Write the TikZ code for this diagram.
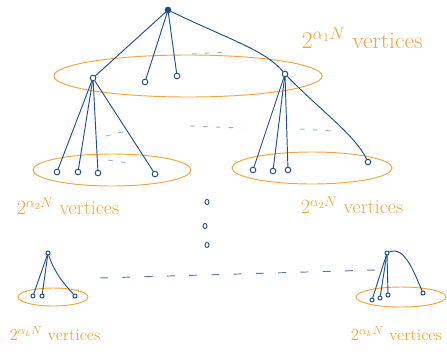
\documentclass[tikz,border=0pt]{standalone}
\usetikzlibrary{calc}
\definecolor{inkblue}{HTML}{1F4E8C}
\definecolor{inkorange}{HTML}{F0A53C}

\begin{document}
\begin{tikzpicture}[
    x=0.03cm, y=-0.03cm,
    vtx/.style={circle, draw=inkblue, thick, fill=white,
                inner sep=0pt, minimum size=0.17cm},
    smallvtx/.style={vtx, minimum size=0.12cm},
    edge/.style={draw=inkblue, thick, line cap=round},
    ring/.style={draw=inkorange, thick},
    faint/.style={draw=inkblue!45, thick, dash pattern=on 4pt off 7pt},
    gap/.style={draw=inkblue!75, thick, dash pattern=on 7pt off 12pt},
    lbl/.style={font=\fontsize{17}{20}\selectfont, text=inkorange},
    biglbl/.style={lbl, font=\fontsize{20}{24}\selectfont},
    smalllbl/.style={lbl, font=\fontsize{14}{17}\selectfont},
]
\useasboundingbox (0,0) rectangle (447,355);

% --- Level 1 ---
\node[vtx, fill=inkblue] (root) at (168, 10) {};
\node[vtx] (a) at (93, 78) {};
\node[vtx] (b) at (145, 82) {};
\node[vtx] (c) at (177, 76) {};
\node[vtx] (d) at (285, 74) {};
\draw[ring] (188, 76) ellipse (134 and 21);

\draw[edge] (root) -- (a);
\draw[edge] (root) -- (b);
\draw[edge] (root) -- (c);
\draw[edge] (root) .. controls (230, 40) and (265, 50) .. (d);
\draw[faint] (192, 54) -- (226, 52);

\node[biglbl] (lab1) at (362, 38) {$2^{\alpha_1 N}$ vertices};

% --- Level 2, left ---
\node[vtx] (a1) at (57, 172) {};
\node[vtx] (a2) at (78, 172) {};
\node[vtx] (a3) at (98, 173) {};
\node[vtx] (a4) at (155, 174) {};
\draw[ring] (112, 170) ellipse (79 and 16);
\foreach \k in {a1, a2, a3, a4}
    \draw[edge] (a) -- (\k);
\draw[faint] (106, 136) -- (126, 131);
\draw[faint] (108, 160) -- (128, 163);

\node[lbl] (lab2) at (68, 206) {$2^{\alpha_2 N}$ vertices};

% --- Level 2, right ---
\node[vtx] (d1) at (253, 170) {};
\node[vtx] (d2) at (273, 171) {};
\node[vtx] (d3) at (288, 170) {};
\node[vtx] (d4) at (368, 162) {};
\draw[ring] (312, 168) ellipse (80 and 16);
\foreach \k in {d1, d2, d3}
    \draw[edge] (d) -- (\k);
\draw[edge] (d) .. controls (320, 110) and (355, 135) .. (d4);
\draw[faint] (190, 126) -- (242, 128);
\draw[faint] (300, 129) -- (332, 131);

\node[lbl] (lab3) at (352, 205) {$2^{\alpha_2 N}$ vertices};

% --- Vertical dots ---
\foreach \y/\x in {202/207, 226/205, 245/207}
    \draw[inkblue, thick] (\x, \y) ellipse (2 and 2.6);

% --- Level k, left ---
\node[smallvtx] (e) at (48, 253) {};
\node[smallvtx] (e1) at (33, 296) {};
\node[smallvtx] (e2) at (42, 296) {};
\node[smallvtx] (e3) at (75, 296) {};
\draw[ring] (53, 297) ellipse (35 and 9);
\draw[edge] (e) -- (e1);
\draw[edge] (e) -- (e2);
\draw[edge] (e) .. controls (55, 275) and (68, 288) .. (e3);

\node[smalllbl] (lab4) at (55, 334) {$2^{\alpha_k N}$ vertices};

% --- Level k, right ---
\node[smallvtx] (f) at (387, 253) {};
\node[smallvtx] (f1) at (372, 300) {};
\node[smallvtx] (f2) at (380, 298) {};
\node[smallvtx] (f3) at (388, 295) {};
\node[smallvtx] (f4) at (423, 293) {};
\draw[ring] (401, 297) ellipse (45 and 10);
\foreach \k in {f1, f2, f3}
    \draw[edge] (f) -- (\k);
\draw[edge] (f) .. controls (405, 245) and (415, 275) .. (f4);

\node[smalllbl, anchor=east] (lab5) at (446, 334) {$2^{\alpha_k N}$ vertices};

% --- Gap between the bottom trees ---
\coordinate (gl) at (100, 278);
\coordinate (gr) at (375, 270);
\draw[gap] (gl) -- (gr);

\end{tikzpicture}
\end{document}
